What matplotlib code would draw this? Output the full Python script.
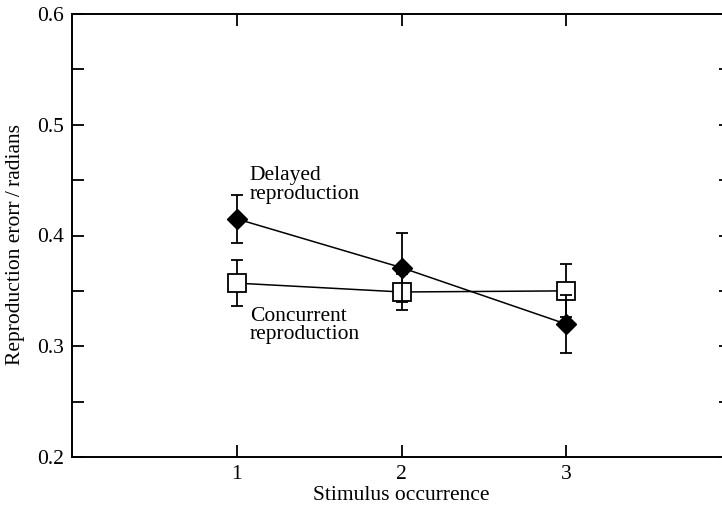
import numpy as np
import matplotlib.pyplot as plt

plt.rcParams['font.family'] = ['Liberation Serif', 'DejaVu Serif']

occurrence = [1, 2, 3]
delayed = [0.415, 0.371, 0.320]
delayed_err = [0.022, 0.031, 0.026]
concurrent = [0.357, 0.349, 0.350]
concurrent_err = [0.021, 0.016, 0.024]

fig = plt.figure(figsize=(7.22, 5.08), dpi=100)
# right edge of the axes sits past the figure edge, as in the original crop
ax = fig.add_axes([72 / 722, 51 / 508, 659 / 722, 443 / 508])

ax.errorbar(occurrence, concurrent, yerr=concurrent_err, color='black',
            lw=1.1, marker='s', ms=13, mfc='white', mec='black', mew=1.3,
            capsize=4, capthick=1.3, elinewidth=1.3, zorder=2)
ax.errorbar(occurrence, delayed, yerr=delayed_err, color='black',
            lw=1.1, marker='D', ms=10, mfc='black', mec='black',
            capsize=4, capthick=1.3, elinewidth=1.3, zorder=3)

fs = 15.5
ax.text(1.08, 0.4455, "Delayed\nreproduction", fontsize=fs,
        ha='left', va='center', linespacing=0.95)
ax.text(1.08, 0.3185, "Concurrent\nreproduction", fontsize=fs,
        ha='left', va='center', linespacing=0.95)

ax.set_xlim(0, 4)
ax.set_ylim(0.2, 0.6)
ax.set_xticks([1, 2, 3])
ax.set_yticks([0.2, 0.3, 0.4, 0.5, 0.6])
ax.set_yticklabels(['0.2', '0.3', '0.4', '0.5', '0.6'])
ax.set_yticks([0.25, 0.35, 0.45, 0.55], minor=True)
ax.tick_params(which='both', direction='in', length=8.5, width=1.3,
               top=True, right=True, labelsize=fs, pad=6)
for s in ax.spines.values():
    s.set_linewidth(1.4)

ax.set_xlabel("Stimulus occurrence", fontsize=fs, labelpad=1)
ax.set_ylabel("Reproduction erorr\u2009/\u2009radians", fontsize=fs)
ax.yaxis.set_label_coords(-0.071, 0.479)

fig.savefig("out.png", dpi=100)
